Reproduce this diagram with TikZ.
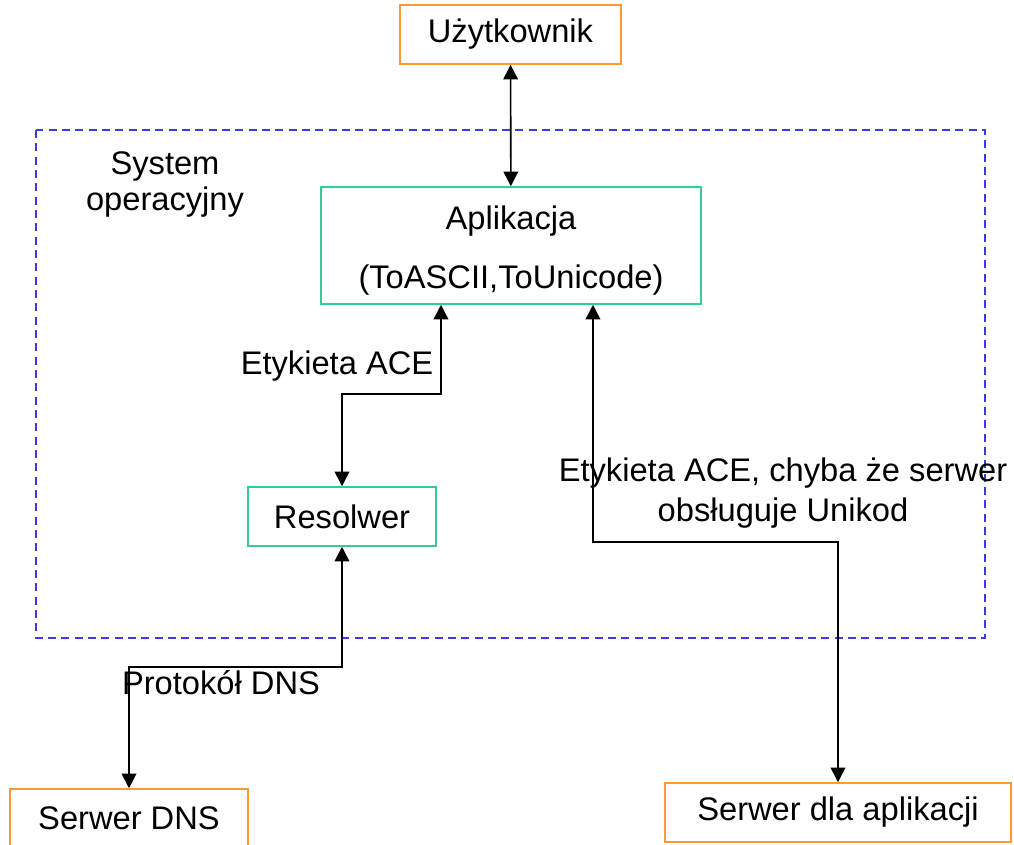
\documentclass[tikz,border=0pt]{standalone}
\usepackage{fontspec}
\setmainfont{Liberation Sans}
\usetikzlibrary{arrows.meta,calc,positioning}
\definecolor{boxorange}{RGB}{255,153,51}
\definecolor{boxgreen}{RGB}{51,204,153}
\definecolor{sysblue}{RGB}{60,60,220}

\begin{document}
\begin{tikzpicture}[x=0.75pt, y=-0.75pt,
	every node/.style={font=\fontsize{24.5}{29}\selectfont, align=center},
	outerbox/.style={draw=boxorange, line width=1.1pt, rectangle, minimum height=44.3pt},
	innerbox/.style={draw=boxgreen, line width=1.1pt, rectangle, minimum height=44.3pt},
	link/.style={arrows={Triangle[width=11pt,length=11pt]-Triangle[width=11pt,length=11pt]}, line width=1.2pt}]
	\useasboundingbox (0,0) rectangle (1014,844);
	\draw[sysblue, line width=1pt, dash pattern=on 6pt off 4pt] (36,130) rectangle (985,638);
	\node[inner sep=0pt] (sys) at (165,184) {System\\[-2pt]operacyjny};

	\node[outerbox, minimum width=165.8pt] (uzyt) at (510.5,34.5) {Użytkownik};
	\node[innerbox, minimum width=285pt, minimum height=87.8pt] (apl) at (511,245.5) {\rule{0pt}{25.5pt}Aplikacja\\[15pt](ToASCII,ToUnicode)};
	\node[innerbox, minimum width=141pt] (res) at (342,516.5) {Resolwer};
	\node[outerbox, minimum width=178.5pt] (dns) at (129,818.5) {Serwer DNS};
	\node[outerbox, minimum width=259.5pt] (app) at (838,812.5) {Serwer dla aplikacji};

	\coordinate (aceturn) at (441,394);
	\coordinate (uniturn) at (593,542);
	\coordinate (dnsturn) at (129,667);

	\draw[link] (uzyt) -- (apl);
	\draw[link] (apl.south -| aceturn) -- (aceturn) -| (res.north);
	\draw[link] (apl.south -| uniturn) -- (uniturn) -| (app.north);
	\draw[link] (res.south) |- (dnsturn) -- (dns.north);

	\node[inner sep=0pt] (acelabel) at (337,366) {Etykieta ACE};
	\node[inner sep=0pt] (unilabel) at (783,493) {Etykieta ACE, chyba że serwer\\[1pt]obsługuje Unikod};
	\node[inner sep=0pt] (dnslabel) at (221,683) {Protokół DNS};
\end{tikzpicture}
\end{document}
